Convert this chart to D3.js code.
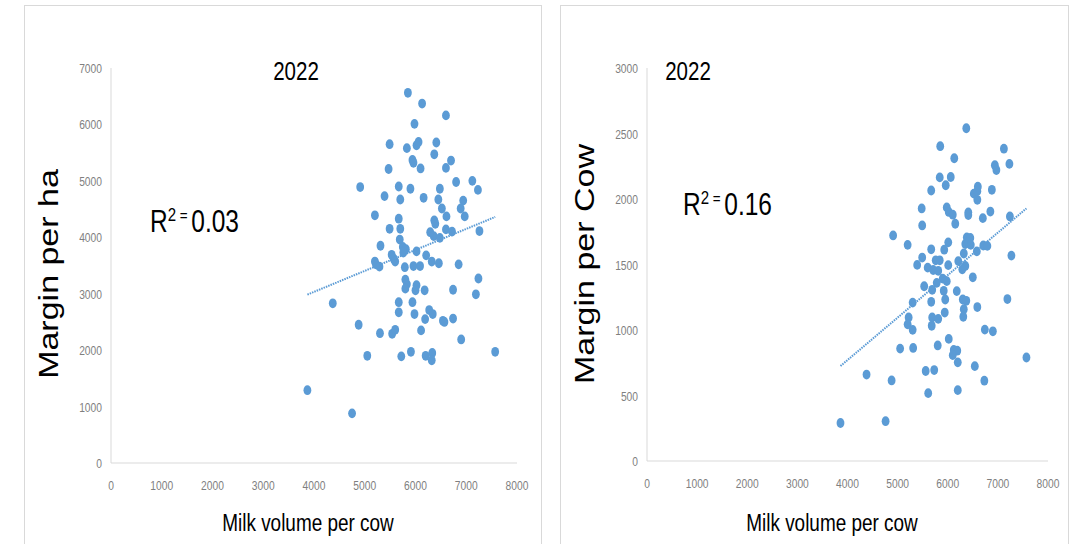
<!DOCTYPE html>
<html>
<head>
<meta charset="utf-8">
<script src="https://cdn.jsdelivr.net/npm/d3@7"></script>
<style>
  body { margin: 0; background: #fff; }
  svg { display: block; }
  text { font-family: "Liberation Sans", Arial, sans-serif; }
</style>
</head>
<body>
<div id="chart"></div>
<script>
// milk volume per cow (x) and margin per ha (y), left panel
const haMilk = [5850,6130,6600,5980,5490,5830,6020,6060,6410,6370,5940,5960,6100,5470,6600,6700,
  4910,5670,5900,6480,6800,7120,7230,5390,5700,6160,6450,6940,6520,6890,5200,5670,6610,6970,6370,6390,
  5490,5700,6600,6720,7260,6290,6360,6480,5690,5310,5750,5810,5760,6020,5530,6210,5570,5600,5200,5220,
  5290,5790,5960,6090,6320,6460,6850,5800,5830,6020,5800,6000,6180,6740,7240,7190,4370,5670,5940,5670,
  5980,6270,6340,6190,6540,6570,6740,4880,6110,5300,5540,5600,6900,5050,5720,5910,6200,6330,6320,7570,
  3870,4750];
const haMargin = [6560,6370,6160,6010,5650,5580,5630,5690,5680,5470,5370,5320,5220,5210,5230,5360,
  4890,4900,4860,4860,4980,5000,4840,4730,4670,4700,4670,4650,4510,4510,4390,4330,4370,4370,4300,4240,
  4150,4150,4140,4100,4110,4090,4020,3990,3960,3850,3830,3790,3730,3750,3690,3680,3620,3570,3570,3520,
  3480,3470,3490,3490,3570,3540,3520,3250,3170,3150,3090,3060,3060,3070,3270,2990,2830,2850,2850,2670,
  2640,2710,2640,2550,2520,2500,2560,2450,2350,2300,2290,2360,2190,1900,1890,1970,1900,1950,1820,1970,
  1290,880];

// milk volume per cow (x) and margin per cow (y), right panel
const cowMilk = [6370,5850,7120,6130,6940,6970,7230,5840,6060,5960,5670,6520,6590,6600,6590,6880,
  5480,5980,6020,6100,6410,6410,6850,6700,7240,5490,6150,4910,6380,6450,6350,6410,6460,5200,6010,6710,
  6790,5670,5930,6580,5490,6320,7270,5760,5840,6210,5390,5600,6010,6350,6290,5710,5810,6500,5900,5980,
  5780,5530,5690,5920,6180,5950,6300,6370,7190,5300,5670,6590,6320,5940,5220,5690,5810,6310,5200,5680,
  5300,6740,6900,6020,5050,5310,5800,6120,6190,6100,6200,7570,4380,5560,5730,6540,4880,6730,5610,6200,
  3860,4760];
const cowMargin = [2540,2403,2384,2311,2258,2221,2268,2165,2168,2105,2065,2041,2060,2094,1994,2070,
  1928,1936,1901,1880,1877,1898,1904,1854,1867,1798,1811,1722,1706,1703,1656,1666,1650,1650,1669,1645,
  1642,1616,1613,1600,1553,1584,1568,1532,1532,1526,1497,1476,1495,1489,1463,1458,1452,1402,1392,1373,
  1360,1334,1307,1299,1297,1233,1233,1223,1236,1209,1215,1175,1159,1133,1096,1096,1085,1101,1043,1032,
  1001,1003,990,932,858,863,882,848,842,808,753,790,660,687,694,724,615,613,518,541,
  290,304];

const yearLabel = "2022";
const xTitle = "Milk volume per cow";
const xTicks = [0,1000,2000,3000,4000,5000,6000,7000,8000];
const haTicks = [0,1000,2000,3000,4000,5000,6000,7000];
const cowTicks = [0,500,1000,1500,2000,2500,3000];

const W = 1076, H = 544;
const blue = "#5b9bd5";
const squeeze = 0.79; // the source picture is stretched vertically, so glyphs look narrow

const svg = d3.select("#chart").append("svg")
  .attr("width", W).attr("height", H);

// panel frames
svg.append("rect").attr("x", 24.5).attr("y", 5.5).attr("width", 517).attr("height", 560)
  .attr("fill", "none").attr("stroke", "#d9d9d9");
svg.append("rect").attr("x", 560.5).attr("y", 5.5).attr("width", 508).attr("height", 560)
  .attr("fill", "none").attr("stroke", "#d9d9d9");

function label(g, x, y, str, size, anchor, fill, rot) {
  return g.append("text")
    .attr("transform", `translate(${x},${y}) scale(${squeeze},1)` + (rot ? " rotate(-90)" : ""))
    .attr("text-anchor", anchor)
    .attr("font-size", size)
    .attr("fill", fill)
    .text(str);
}

function regress(xs, ys) {
  const mx = d3.mean(xs), my = d3.mean(ys);
  let sxy = 0, sxx = 0;
  for (let i = 0; i < xs.length; i++) {
    sxy += (xs[i] - mx) * (ys[i] - my);
    sxx += (xs[i] - mx) * (xs[i] - mx);
  }
  const b = sxy / sxx;
  return { b: b, a: my - b * mx };
}

function panel(cfg) {
  const x = d3.scaleLinear().domain([0, 8000]).range([cfg.x0, cfg.x1]);
  const y = d3.scaleLinear().domain([0, cfg.ymax]).range([cfg.y0, cfg.y1]);
  const g = svg.append("g");

  // axis lines
  g.append("line").attr("x1", cfg.x0).attr("x2", cfg.x0).attr("y1", cfg.y0).attr("y2", cfg.y1)
    .attr("stroke", "#d9d9d9");
  g.append("line").attr("x1", cfg.x0).attr("x2", cfg.x1).attr("y1", cfg.y0).attr("y2", cfg.y0)
    .attr("stroke", "#d9d9d9");

  cfg.yTicks.forEach(d => label(g, cfg.x0 - 9, y(d) + 5, d, 13, "end", "#7f7f7f"));
  xTicks.forEach(d => label(g, x(d), cfg.y0 + 27, d, 13, "middle", "#7f7f7f"));

  // trend line
  const fit = regress(cfg.xs, cfg.ys);
  const ext = d3.extent(cfg.xs);
  g.append("line")
    .attr("x1", x(ext[0])).attr("y1", y(fit.a + fit.b * ext[0]))
    .attr("x2", x(ext[1])).attr("y2", y(fit.a + fit.b * ext[1]))
    .attr("stroke", blue).attr("stroke-width", 2).attr("stroke-dasharray", "1.5,1");

  g.selectAll("ellipse").data(cfg.xs.map((v, i) => [v, cfg.ys[i]])).enter().append("ellipse")
    .attr("cx", d => x(d[0]))
    .attr("cy", d => y(d[1]))
    .attr("rx", 3.9)
    .attr("ry", 4.9)
    .attr("fill", blue);

  label(g, cfg.titleX, 80, yearLabel, 26, "middle", "#000");

  const r2 = label(g, cfg.r2X, cfg.r2Y, "R", 31, "start", "#000");
  r2.append("tspan").attr("font-size", 19).attr("dy", -11).text("2");
  r2.append("tspan").attr("font-size", 17).attr("dy", 0).text(" = ");
  r2.append("tspan").attr("dy", 11).text(cfg.r2);

  label(g, cfg.xtX, 531, xTitle, 24, "middle", "#000");

  label(g, cfg.ytX, cfg.ytY, cfg.yTitle, 34, "middle", "#000", true);
}

panel({
  xs: haMilk, ys: haMargin, ymax: 7000, yTicks: haTicks,
  x0: 111, x1: 517, y0: 463, y1: 68,
  titleX: 296, r2X: 150, r2Y: 232, r2: "0.03", xtX: 308,
  yTitle: "Margin per ha", ytX: 58, ytY: 274
});

panel({
  xs: cowMilk, ys: cowMargin, ymax: 3000, yTicks: cowTicks,
  x0: 647, x1: 1048, y0: 461, y1: 68,
  titleX: 688, r2X: 683, r2Y: 215, r2: "0.16", xtX: 832,
  yTitle: "Margin per Cow", ytX: 594, ytY: 264
});
</script>
</body>
</html>
